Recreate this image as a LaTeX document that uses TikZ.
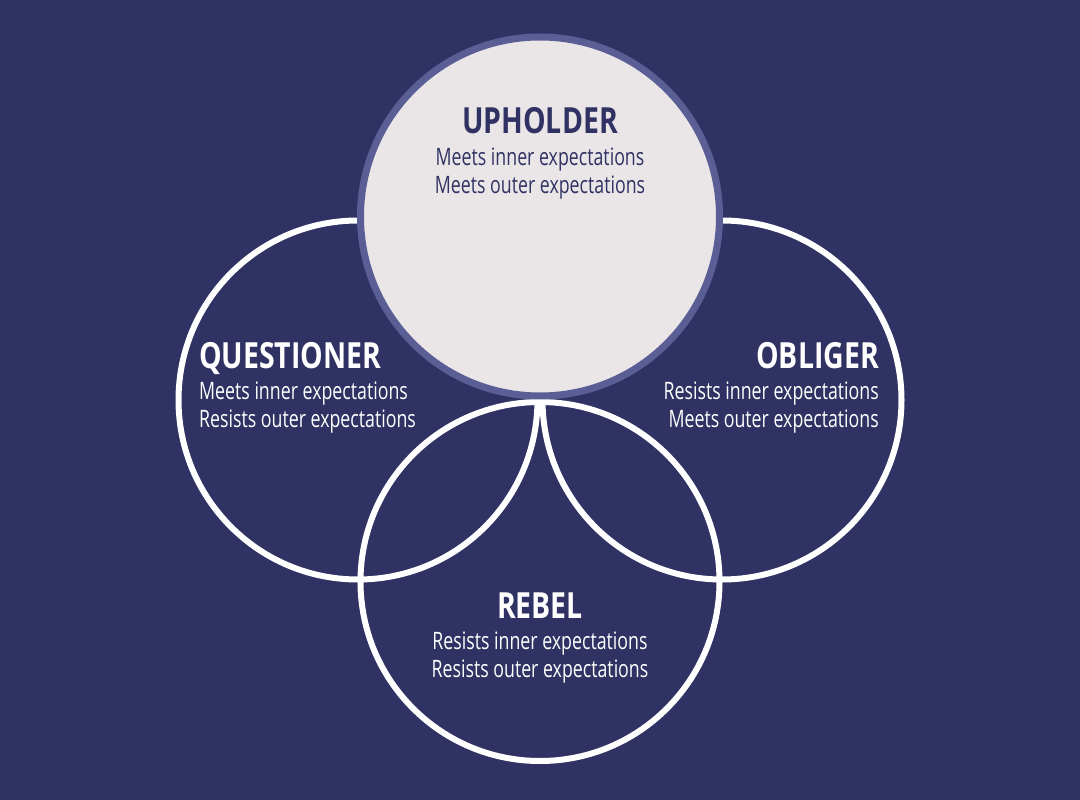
\documentclass[tikz,border=0pt]{standalone}
\usepackage{fontspec}
\setmainfont[FakeStretch=0.74]{Open Sans}
\newfontfamily\headfont[FakeStretch=0.79]{Open Sans}
\definecolor{navy}{HTML}{2F3262}
\definecolor{upfill}{HTML}{EAE6E8}
\definecolor{upline}{HTML}{5B5E95}

\begin{document}
\begin{tikzpicture}[
    x=1pt,y=-1pt,
    ring/.style={draw=white,line width=6pt,circle,minimum size=359pt,inner sep=0pt},
    upring/.style={draw=upline,fill=upfill,line width=7pt,circle,minimum size=359pt,inner sep=0pt},
    head/.style={font=\headfont\bfseries\fontsize{36}{40}\selectfont,inner sep=0pt,white},
    txt/.style={font=\fontsize{24}{28}\selectfont,inner sep=0pt,white}
    ]
    \fill[navy] (0,0) rectangle (1080,800);
    \node[ring] (questioner) at (358,400) {};
    \node[ring] (obliger) at (722,400) {};
    \node[ring] (rebel) at (540,581.5) {};
    \node[upring] (upholder) at (540,216.5) {};

    \node[head,navy,anchor=base] (uptitle) at (540,133) {UPHOLDER};
    \node[txt,navy,anchor=base] (upone) at (540,165) {Meets inner expectations};
    \node[txt,navy,anchor=base] (uptwo) at (540,193) {Meets outer expectations};

    \node[head,anchor=base west] (qtitle) at (199,368) {QUESTIONER};
    \node[txt,anchor=base west] (qone) at (199,399) {Meets inner expectations};
    \node[txt,anchor=base west] (qtwo) at (199,427) {Resists outer expectations};

    \node[head,anchor=base east] (otitle) at (879,368) {OBLIGER};
    \node[txt,anchor=base east] (oone) at (879,399) {Resists inner expectations};
    \node[txt,anchor=base east] (otwo) at (879,427) {Meets outer expectations};

    \node[head,anchor=base] (rtitle) at (540,618) {REBEL};
    \node[txt,anchor=base] (rone) at (540,649) {Resists inner expectations};
    \node[txt,anchor=base] (rtwo) at (540,677) {Resists outer expectations};
\end{tikzpicture}
\end{document}
